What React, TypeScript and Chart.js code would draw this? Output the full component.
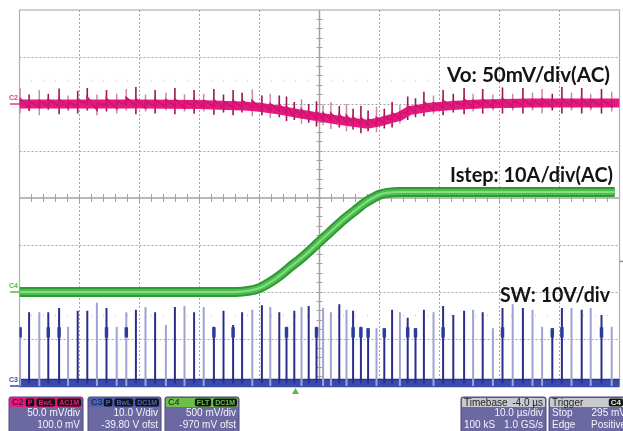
import React, { useEffect, useRef } from "react";
import { Chart, registerables } from "chart.js";
Chart.register(...registerables);

const W = 623;
const H = 431;

// ---- data (time in divisions 0..10, vertical in divisions 0..8) ----
const timePerDivUs = 10;
const triggerDelayUs = -4.0;
const trigLevelMv = 295;
const c4OffsetMv = -970;
const c4ScaleMv = 500;

// Vo (C2) envelope
const voT = [0, 1, 2, 3, 3.7, 4.0, 4.34, 4.67, 5.0, 5.3, 5.5, 5.8, 6.0, 6.34, 6.5, 6.84, 7.34, 7.67, 8.5, 10];
const voV = [6.0, 6.0, 6.0, 5.99, 5.96, 5.93, 5.87, 5.79, 5.72, 5.66, 5.62, 5.57, 5.62, 5.74, 5.86, 5.93, 5.98, 6.0, 6.02, 6.02];

// Istep (C4)
const istT = [0, 1, 2, 3, 3.6, 3.84, 4.01, 4.17, 4.34, 4.5, 4.68, 4.84, 4.99, 5.17, 5.34, 5.5, 5.63, 5.76, 5.89, 6.0, 6.13, 6.34, 7, 8, 9, 9.92];
const istV = [2.0, 2.0, 2.0, 2.0, 2.0, 2.03, 2.09, 2.2, 2.35, 2.52, 2.7, 2.88, 3.06, 3.27, 3.47, 3.64, 3.77, 3.9, 4.0, 4.07, 4.11, 4.13, 4.13, 4.13, 4.13, 4.13];

// SW (C3) switching events
const swBase = 0.06;
const swT = [0.01, 0.16, 0.33, 0.48, 0.66, 0.81, 0.97, 1.13, 1.29, 1.45,
  1.62, 1.78, 1.94, 2.10, 2.26, 2.44, 2.59, 2.75, 2.91, 3.07,
  3.24, 3.40, 3.56, 3.71, 3.88, 4.04, 4.18, 4.33, 4.45, 4.58,
  4.70, 4.82, 4.95, 5.06, 5.19, 5.33, 5.45, 5.56, 5.69, 5.81,
  5.95, 6.08, 6.21, 6.34, 6.47, 6.60, 6.74, 6.90, 7.06, 7.23,
  7.41, 7.56, 7.72, 7.89, 8.05, 8.22, 8.39, 8.55, 8.71, 8.88,
  9.04, 9.20, 9.37, 9.52, 9.70, 9.87];
const swTop = [1.26, 1.57, 1.57, 1.57, 1.66, 1.26, 1.60, 1.60, 1.77, 1.66,
  1.26, 1.57, 1.62, 1.68, 1.57, 1.30, 1.68, 1.70, 1.57, 1.68,
  1.26, 1.60, 1.30, 1.57, 1.62, 1.72, 1.68, 1.57, 1.26, 1.60,
  1.68, 1.70, 1.26, 1.66, 1.57, 1.74, 1.62, 1.60, 1.26, 1.23,
  1.23, 1.23, 1.62, 1.57, 1.45, 1.23, 1.62, 1.57, 1.70, 1.51,
  1.60, 1.62, 1.57, 1.23, 1.66, 1.74, 1.66, 1.62, 1.26, 1.23,
  1.66, 1.66, 1.62, 1.66, 1.51, 1.26];
const swTone = ("ldlddlddld" + "lldldldldl" + "ddddldlddd" + "lddlldlddd" + "lddldddldd" + "dldldldlld" + "dldldl").split("");
const swMark = [1, 0, 0, 1, 1, 0, 0, 0, 0, 1,
  0, 1, 0, 0, 0, 0, 0, 0, 0, 0,
  1, 0, 1, 0, 0, 0, 0, 0, 1, 0,
  0, 0, 1, 0, 0, 0, 0, 1, 1, 1,
  0, 1, 0, 0, 1, 1, 0, 0, 1, 0,
  0, 0, 0, 0, 1, 0, 0, 0, 0, 1,
  1, 0, 0, 0, 1, 0];

// Vo spikes at each switching event
const voHi = [6.34, 6.20, 6.30, 6.22, 6.33, 6.18, 6.28, 6.34, 6.20, 6.30,
  6.22, 6.32, 6.36, 6.20, 6.30, 6.24, 6.34, 6.20, 6.30, 6.22,
  6.32, 6.20, 6.30, 6.24, 6.31, 6.18, 6.22, 6.18, 6.16, 6.04,
  6.10, 6.00, 6.06, 5.98, 6.04, 5.96, 6.00, 5.90, 5.96, 5.86,
  5.94, 5.90, 6.04, 5.98, 6.16, 6.12, 6.26, 6.18, 6.30, 6.22,
  6.34, 6.22, 6.32, 6.20, 6.35, 6.22, 6.34, 6.24, 6.32, 6.22,
  6.36, 6.24, 6.34, 6.22, 6.32, 6.26];
const voLo = [5.80, 5.85, 5.76, 5.88, 5.78, 5.85, 5.80, 5.86, 5.76, 5.84,
  5.80, 5.86, 5.78, 5.84, 5.80, 5.86, 5.78, 5.84, 5.79, 5.84,
  5.77, 5.82, 5.76, 5.82, 5.74, 5.76, 5.70, 5.72, 5.64, 5.66,
  5.58, 5.60, 5.52, 5.55, 5.47, 5.50, 5.42, 5.46, 5.38, 5.42,
  5.40, 5.48, 5.50, 5.58, 5.66, 5.72, 5.74, 5.78, 5.76, 5.82,
  5.78, 5.84, 5.80, 5.86, 5.80, 5.86, 5.80, 5.86, 5.80, 5.86,
  5.80, 5.86, 5.80, 5.86, 5.80, 5.84];

// ---- text ----
const traceLabels = ["Vo: 50mV/div(AC)", "Istep: 10A/div(AC)", "SW: 10V/div"];
const chanNames = ["C2", "C3", "C4"];
const chanTags = [["P", "BwL", "AC1M"], ["P", "BwL", "DC1M"], ["FLT", "DC1M"]];
const chanLine1 = ["50.0 mV/div", "10.0 V/div", "500 mV/div"];
const chanLine2 = ["100.0 mV", "-39.80 V ofst", "-970 mV ofst"];
const tbHeader = ["Timebase", "-4.0 µs"];
const tbLine1 = "10.0 µs/div";
const tbLine2 = ["100 kS", "1.0 GS/s"];
const trHeader = ["Trigger", "C4"];
const trLine1 = ["Stop", "295 mV"];
const trLine2 = ["Edge", "Positive"];

// ---- colours ----
const C2_COL = "#e5197e";
const C4_COL = "#6cc04a";

const pts = (xs: number[], ys: number[]) => xs.map((x, i) => ({ x, y: ys[i] }));

function segs(filter: (i: number) => boolean, lo: (i: number) => number, hi: (i: number) => number) {
  const out: any[] = [];
  swT.forEach((t, i) => {
    if (!filter(i)) return;
    out.push({ x: t, y: lo(i) }, { x: t, y: hi(i) }, { x: t, y: null });
  });
  return out;
}

// sawtooth ripple of Vo: jumps at each switching event, decays until the next
function ripple() {
  const out: any[] = [];
  swT.forEach((t, i) => {
    const m = (voHi[i] + voLo[i]) / 2 - 0.03;
    out.push({ x: t, y: m - 0.07 }, { x: t, y: m + 0.07 });
  });
  return out;
}

function ds(data: any[], color: string, width: number, order: number, extra: any = {}) {
  return {
    data,
    borderColor: color,
    backgroundColor: color,
    borderWidth: width,
    pointRadius: 0,
    fill: false,
    spanGaps: false,
    tension: 0,
    order,
    ...extra,
  };
}

const gridPlugin = {
  id: "scopeGrid",
  beforeDatasetsDraw(chart: any) {
    const { ctx, chartArea: a, scales } = chart;
    const x = scales.x;
    const y = scales.y;
    ctx.save();
    ctx.strokeStyle = "#a6a6a6";
    ctx.lineWidth = 1;
    ctx.setLineDash([2, 2]);
    for (let i = 1; i < 10; i++) {
      if (i === 5) continue;
      const px = Math.floor(x.getPixelForValue(i)) + 0.5;
      ctx.beginPath();
      ctx.moveTo(px, a.top);
      ctx.lineTo(px, a.bottom);
      ctx.stroke();
    }
    for (let j = 1; j < 8; j++) {
      if (j === 4) continue;
      const py = Math.floor(y.getPixelForValue(j)) + 0.5;
      ctx.beginPath();
      ctx.moveTo(a.left, py);
      ctx.lineTo(a.right, py);
      ctx.stroke();
    }
    ctx.setLineDash([]);
    ctx.strokeStyle = "#d6d6d6";
    [1.5, 6.5].forEach((r) => {
      const py = y.getPixelForValue(r);
      for (let k = 1; k < 50; k++) {
        if (k % 5 === 0) continue;
        const px = Math.floor(x.getPixelForValue(k / 5)) + 0.5;
        ctx.beginPath();
        ctx.moveTo(px, py - 1);
        ctx.lineTo(px, py + 1);
        ctx.stroke();
      }
    });
    const cx = x.getPixelForValue(5);
    const cy = y.getPixelForValue(4);
    ctx.strokeStyle = "#a2a2a2";
    ctx.lineWidth = 1.5;
    ctx.beginPath();
    ctx.moveTo(cx, a.top);
    ctx.lineTo(cx, a.bottom);
    ctx.moveTo(a.left, cy);
    ctx.lineTo(a.right, cy);
    ctx.stroke();
    ctx.lineWidth = 1;
    for (let k = 1; k < 50; k++) {
      const px = Math.floor(x.getPixelForValue(k / 5)) + 0.5;
      ctx.beginPath();
      ctx.moveTo(px, cy - 4);
      ctx.lineTo(px, cy + 4);
      ctx.stroke();
    }
    for (let k = 1; k < 40; k++) {
      const py = Math.floor(y.getPixelForValue(k / 5)) + 0.5;
      ctx.beginPath();
      ctx.moveTo(cx - 3, py);
      ctx.lineTo(cx + 3, py);
      ctx.stroke();
    }
    ctx.strokeStyle = "#b0b0b0";
    ctx.lineWidth = 1.2;
    ctx.strokeRect(a.left, a.top, a.right - a.left, a.bottom - a.top);
    ctx.restore();
  },
};

function rr(ctx: CanvasRenderingContext2D, x: number, y: number, w: number, h: number, r: number) {
  ctx.beginPath();
  if ((ctx as any).roundRect) (ctx as any).roundRect(x, y, w, h, r);
  else ctx.rect(x, y, w, h);
}

function fitText(ctx: CanvasRenderingContext2D, text: string, x: number, base: number, width: number) {
  const w = ctx.measureText(text).width;
  ctx.save();
  ctx.translate(x, base);
  ctx.scale(width / w, 1);
  ctx.fillText(text, 0, 0);
  ctx.restore();
}

const PANEL_BODY = "#6b68a2";
const PANEL_TOP = 397;
const PANEL_H = 36;

function chanPanel(ctx: CanvasRenderingContext2D, px: number, pw: number, col: string, idx: number) {
  rr(ctx, px, PANEL_TOP, pw, PANEL_H, 2);
  ctx.fillStyle = PANEL_BODY;
  ctx.fill();
  ctx.strokeStyle = "#4b4878";
  ctx.lineWidth = 1;
  ctx.stroke();
  rr(ctx, px + 1, PANEL_TOP + 1, pw - 2, 9, 1.5);
  ctx.fillStyle = col;
  ctx.fill();
  ctx.textBaseline = "middle";
  ctx.font = "9px 'Liberation Sans'";
  ctx.fillStyle = "#1a1a1a";
  ctx.textAlign = "left";
  ctx.fillText(chanNames[idx], px + 3, PANEL_TOP + 6);
  let right = px + pw - 2;
  ctx.font = "bold 7px 'Liberation Sans'";
  const tags = chanTags[idx];
  for (let k = tags.length - 1; k >= 0; k--) {
    const tw = ctx.measureText(tags[k]).width + 4;
    rr(ctx, right - tw, PANEL_TOP + 1.5, tw, 8, 2);
    ctx.fillStyle = "#141414";
    ctx.fill();
    ctx.fillStyle = col;
    ctx.textAlign = "center";
    ctx.fillText(tags[k], right - tw / 2, PANEL_TOP + 6);
    right -= tw + 2;
  }
  ctx.fillStyle = "#f4f4f8";
  ctx.font = "10px 'Liberation Sans'";
  ctx.textAlign = "right";
  ctx.fillText(chanLine1[idx], px + pw - 3, PANEL_TOP + 16);
  ctx.fillText(chanLine2[idx], px + pw - 3, PANEL_TOP + 28);
}

function infoPanel(ctx: CanvasRenderingContext2D, px: number, pw: number, header: string[], boxRight: boolean, l1: string[], l2: string[]) {
  rr(ctx, px, PANEL_TOP, pw, PANEL_H, 2);
  ctx.fillStyle = PANEL_BODY;
  ctx.fill();
  ctx.strokeStyle = "#4b4878";
  ctx.lineWidth = 1;
  ctx.stroke();
  rr(ctx, px + 1, PANEL_TOP + 1, pw - 2, 9, 1.5);
  ctx.fillStyle = "#c9c9d2";
  ctx.fill();
  ctx.textBaseline = "middle";
  ctx.font = "10px 'Liberation Sans'";
  ctx.fillStyle = "#222";
  ctx.textAlign = "left";
  ctx.fillText(header[0], px + 3, PANEL_TOP + 6);
  if (boxRight) {
    ctx.font = "bold 8px 'Liberation Sans'";
    const tw = ctx.measureText(header[1]).width + 4;
    rr(ctx, px + pw - tw - 6, PANEL_TOP + 1.5, tw, 8, 2);
    ctx.fillStyle = "#151515";
    ctx.fill();
    ctx.fillStyle = "#e8e8e8";
    ctx.textAlign = "center";
    ctx.fillText(header[1], px + pw - tw / 2 - 6, PANEL_TOP + 6);
  } else {
    ctx.textAlign = "right";
    ctx.fillText(header[1], px + pw - 3, PANEL_TOP + 6);
  }
  ctx.font = "10px 'Liberation Sans'";
  ctx.fillStyle = "#f4f4f8";
  if (l1[0]) {
    ctx.textAlign = "left";
    ctx.fillText(l1[0], px + 3, PANEL_TOP + 16);
  }
  ctx.textAlign = "right";
  ctx.fillText(l1[1], px + pw - 3, PANEL_TOP + 16);
  ctx.textAlign = "left";
  ctx.fillText(l2[0], px + 3, PANEL_TOP + 28);
  ctx.textAlign = "right";
  ctx.fillText(l2[1], px + pw - 3, PANEL_TOP + 28);
}

const overlayPlugin = {
  id: "scopeOverlay",
  afterDraw(chart: any) {
    const { ctx, chartArea: a, scales } = chart;
    const x = scales.x;
    const y = scales.y;
    ctx.save();
    ctx.fillStyle = "#141414";
    ctx.font = "bold 21px Lato";
    ctx.textAlign = "left";
    ctx.textBaseline = "alphabetic";
    fitText(ctx, traceLabels[0], 447, 82, 163);
    fitText(ctx, traceLabels[1], 450, 182, 163);
    fitText(ctx, traceLabels[2], 500, 302, 110);

    const marks: [string, string, number][] = [
      ["C2", "#e23a8c", y.getPixelForValue(voV[0])],
      ["C4", "#5cb84a", y.getPixelForValue(istV[0])],
      ["C3", "#3a4aa6", y.getPixelForValue(0)],
    ];
    ctx.font = "bold 7px 'Liberation Sans'";
    marks.forEach(([n, c, py]) => {
      ctx.fillStyle = c;
      ctx.strokeStyle = c;
      ctx.fillText(n, 9, py - 4);
      ctx.lineWidth = 1.5;
      ctx.beginPath();
      ctx.moveTo(10, py);
      ctx.lineTo(a.left, py);
      ctx.stroke();
    });

    const tx = x.getPixelForValue(5 + triggerDelayUs / timePerDivUs);
    ctx.fillStyle = "#5cb84a";
    ctx.beginPath();
    ctx.moveTo(tx, a.bottom + 2);
    ctx.lineTo(tx + 3.5, a.bottom + 8);
    ctx.lineTo(tx - 3.5, a.bottom + 8);
    ctx.closePath();
    ctx.fill();
    const ty = y.getPixelForValue(4 + (trigLevelMv + c4OffsetMv) / c4ScaleMv);
    ctx.strokeStyle = "#5cb84a";
    ctx.lineWidth = 1.5;
    ctx.beginPath();
    ctx.moveTo(a.right, ty);
    ctx.lineTo(W, ty);
    ctx.stroke();

    chanPanel(ctx, 9, 74, C2_COL, 0);
    chanPanel(ctx, 88, 73, "#4d60b6", 1);
    chanPanel(ctx, 165, 74, C4_COL, 2);
    infoPanel(ctx, 461, 85, tbHeader, false, ["", tbLine1], tbLine2);
    infoPanel(ctx, 549, 80, trHeader, true, trLine1, trLine2);
    ctx.restore();
  },
};

export default function App() {
  const ref = useRef<HTMLCanvasElement>(null);
  useEffect(() => {
    const canvas = ref.current!;
    const datasets: any[] = [
      // SW (C3)
      ds(pts([0, 10], [swBase, swBase]), "#3a4cab", 8, 30, { clip: false }),
      ds(pts([0, 10], [0.14, 0.14]), "#27338e", 1.5, 29),
      ds(segs((i) => swTone[i] === "l", () => -0.05, (i) => swTop[i]), "#9fa2d3", 2, 28),
      ds(segs((i) => swTone[i] === "d", () => swBase, (i) => swTop[i]), "#2a2e8a", 2, 27),
      ds(segs((i) => swMark[i] === 1, () => 1.03, (i) => Math.min(swTop[i], 1.25)), "#2c3c9e", 3.5, 26),
      // Istep (C4)
      ds(pts(istT, istV), "#2e9a34", 10, 20, { cubicInterpolationMode: "monotone" }),
      ds(pts(istT, istV), "#4cbd4e", 6, 19, { cubicInterpolationMode: "monotone" }),
      ds(pts(istT, istV), "#86dc84", 2, 18, { cubicInterpolationMode: "monotone" }),
      // Vo (C2)
      ds(segs((i) => swTone[i] === "l", (i) => voLo[i], (i) => voHi[i]), "#cf86a8", 1.5, 12),
      ds(segs((i) => swTone[i] === "d", (i) => voLo[i], (i) => voHi[i]), "#9c1656", 1.6, 11),
      ds(pts(voT, voV), C2_COL, 9, 10),
      ds(ripple(), "#cf1570", 2, 9),
    ];
    const chart = new Chart(canvas, {
      type: "line",
      data: { datasets },
      options: {
        responsive: false,
        animation: false,
        devicePixelRatio: 1,
        events: [],
        layout: { padding: { left: 19.5, right: 3.5, top: 10, bottom: 45 } },
        scales: {
          x: { type: "linear", min: 0, max: 10, display: false },
          y: { type: "linear", min: 0, max: 8, display: false },
        },
        plugins: {
          legend: { display: false },
          tooltip: { enabled: false },
          title: { display: false },
        },
        elements: { point: { radius: 0 }, line: { borderCapStyle: "butt" } },
      } as any,
      plugins: [gridPlugin, overlayPlugin],
    });
    return () => chart.destroy();
  }, []);
  return (
    <div style={{ position: "fixed", left: 0, top: 0, width: W, height: H, background: "#fff" }}>
      <canvas ref={ref} width={W} height={H} style={{ display: "block" }} />
    </div>
  );
}
